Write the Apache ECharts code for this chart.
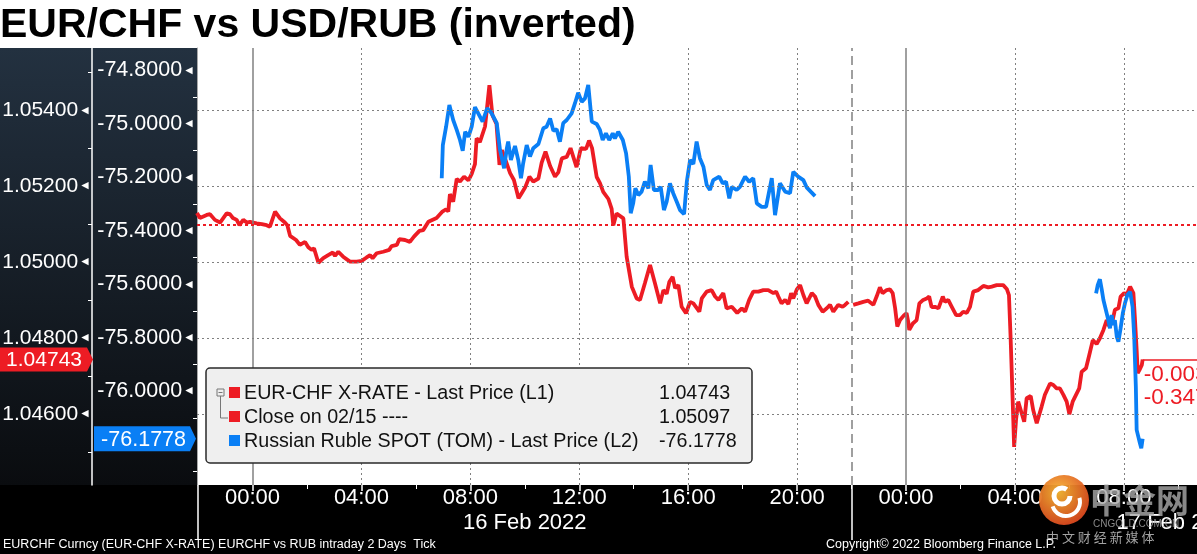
<!DOCTYPE html>
<html><head><meta charset="utf-8">
<script src="https://cdn.jsdelivr.net/npm/echarts@6/dist/echarts.min.js"></script>
<style>html,body{margin:0;padding:0;background:#fff}#c{width:1197px;height:554px}</style>
</head><body><div id="c"></div>
<script>
const titleText = 'EUR/CHF vs USD/RUB (inverted)';

// EUR-CHF (L1), hours relative to 16 Feb 2022 00:00
const redHoursA = [-2.04,-1.93,-1.68,-1.56,-1.38,-1.19,-0.95,-0.83,-0.72,-0.58,
 -0.48,-0.34,-0.21,-0.09,0.15,0.34,0.52,0.64,0.83,1.01,
 1.19,1.28,1.38,1.60,1.74,1.93,2.05,2.17,2.26,2.42,
 2.60,2.78,2.95,3.03,3.15,3.33,3.58,3.83,4.01,4.19,
 4.32,4.41,4.56,4.80,5.02,5.11,5.30,5.39,5.60,5.78,
 5.93,6.13,6.27,6.46,6.76,6.96,7.11,7.19,7.25,7.37,
 7.50,7.62,7.77,7.93,8.05,8.17,8.23,8.35,8.54,8.70,
 8.81,8.96,9.07,9.16,9.29,9.46,9.60,9.77,9.89,10.01,
 10.17,10.31,10.50,10.62,10.76,10.93,11.11,11.23,11.36,11.54,
 11.68,11.90,12.06,12.25,12.36,12.47,12.64,12.76,12.88,13.07,
 13.19,13.25,13.37,13.62,13.74,13.93,14.11,14.23,14.41,14.60,
 14.78,14.97,15.09,15.21,15.31,15.43,15.52,15.64,15.76,15.92,
 16.07,16.19,16.41,16.50,16.68,16.86,16.99,17.11,17.29,17.41,
 17.60,17.80,17.97,18.09,18.24,18.39,18.58,18.76,18.94,19.13,
 19.23,19.31,19.43,19.56,19.68,19.78,19.86,19.99,20.11,20.23,
 20.35,20.54,20.66,20.78,20.94,21.09,21.21,21.33,21.51,21.67,
 21.76,21.88];
const redValuesA = [1.05129,1.05116,1.05124,1.05126,1.05111,1.05104,1.05128,1.05126,1.05116,1.05111,
 1.05097,1.05111,1.05104,1.05106,1.05102,1.05100,1.05097,1.05093,1.05133,1.05115,
 1.05104,1.05097,1.05069,1.05058,1.05045,1.05053,1.05039,1.05032,1.05036,1.04998,
 1.05010,1.05018,1.05025,1.05016,1.05027,1.05014,1.05001,1.05001,1.05003,1.05012,
 1.05018,1.05010,1.05023,1.05027,1.05032,1.05042,1.05045,1.05060,1.05058,1.05053,
 1.05067,1.05082,1.05084,1.05106,1.05116,1.05132,1.05139,1.05133,1.05179,1.05159,
 1.05219,1.05212,1.05225,1.05215,1.05232,1.05258,1.05326,1.05316,1.05357,1.05466,
 1.05387,1.05364,1.05256,1.05295,1.05269,1.05234,1.05216,1.05168,1.05182,1.05196,
 1.05225,1.05212,1.05220,1.05262,1.05291,1.05253,1.05225,1.05236,1.05273,1.05277,
 1.05300,1.05250,1.05300,1.05298,1.05320,1.05300,1.05224,1.05208,1.05185,1.05166,
 1.05140,1.05097,1.05128,1.05115,1.05014,1.04935,1.04904,1.04900,1.04944,1.04992,
 1.04944,1.04891,1.04926,1.04916,1.04948,1.04961,1.04931,1.04939,1.04882,1.04865,
 1.04895,1.04891,1.04869,1.04904,1.04922,1.04926,1.04909,1.04900,1.04918,1.04878,
 1.04882,1.04866,1.04878,1.04869,1.04900,1.04922,1.04922,1.04926,1.04926,1.04918,
 1.04922,1.04909,1.04891,1.04900,1.04889,1.04918,1.04904,1.04928,1.04939,1.04913,
 1.04891,1.04918,1.04909,1.04887,1.04869,1.04878,1.04887,1.04869,1.04887,1.04882,
 1.04887,1.04895];
const redHoursB = [22.06,22.25,22.43,22.61,22.80,22.92,23.04,23.14,
 23.29,23.41,23.51,23.60,23.68,23.78,23.93,24.02,24.08,24.12,
 24.25,24.39,24.49,24.63,24.76,24.85,24.94,25.06,25.19,25.35,
 25.43,25.55,25.68,25.84,25.98,26.10,26.23,26.35,26.47,26.65,
 26.84,27.02,27.15,27.33,27.57,27.70,27.78,27.84,27.92,27.97,
 28.04,28.12,28.25,28.34,28.43,28.58,28.67,28.80,28.98,29.10,
 29.29,29.41,29.53,29.65,29.78,29.90,30.00,30.12,30.27,30.36,
 30.45,30.61,30.73,30.86,31.00,31.12,31.25,31.37,31.47,31.59,
 31.67,31.80,31.88,32.01,32.10,32.23,32.30,32.35,32.41,32.47,
 32.51,32.57,32.66,32.69];
const redValuesB = [1.04887,1.04891,1.04895,1.04898,1.04887,1.04909,1.04933,1.04918,
 1.04926,1.04928,1.04918,1.04878,1.04830,1.04847,1.04860,1.04865,1.04843,1.04821,
 1.04838,1.04847,1.04891,1.04900,1.04904,1.04909,1.04881,1.04882,1.04878,1.04909,
 1.04895,1.04900,1.04882,1.04860,1.04860,1.04869,1.04866,1.04882,1.04922,1.04926,
 1.04937,1.04933,1.04935,1.04939,1.04939,1.04929,1.04913,1.04803,1.04628,1.04513,
 1.04584,1.04632,1.04601,1.04579,1.04641,1.04647,1.04610,1.04575,1.04619,1.04650,
 1.04680,1.04676,1.04667,1.04667,1.04650,1.04632,1.04599,1.04632,1.04654,1.04667,
 1.04711,1.04720,1.04755,1.04794,1.04784,1.04799,1.04821,1.04847,1.04830,1.04847,
 1.04874,1.04878,1.04909,1.04918,1.04913,1.04935,1.04939,1.04918,1.04847,1.04768,
 1.04707,1.04715,1.04729,1.04743];

// USD/RUB inverted (L2)
const blueHoursA = [6.95,6.99,7.11,7.23,7.37,7.50,7.62,7.72,7.81,7.93,
 8.05,8.17,8.29,8.45,8.62,8.78,8.97,9.09,9.24,9.34,
 9.39,9.49,9.64,9.76,9.86,9.94,10.07,10.19,10.31,10.50,
 10.68,10.80,10.93,11.05,11.17,11.29,11.41,11.54,11.72,11.84,
 11.96,12.09,12.21,12.33,12.46,12.64,12.76,12.86,12.98,13.10,
 13.23,13.31,13.43,13.60,13.72,13.82,13.89,13.98,14.06,14.17,
 14.29,14.41,14.54,14.62,14.74,14.90,14.99,15.11,15.21,15.33,
 15.45,15.58,15.70,15.85,15.95,16.07,16.19,16.31,16.43,16.56,
 16.68,16.80,16.92,17.14,17.27,17.39,17.51,17.60,17.78,17.90,
 18.09,18.24,18.39,18.52,18.70,18.86,19.07,19.19,19.37,19.56,
 19.74,19.86,20.04,20.23,20.35,20.50,20.66];
const blueValuesA = [-75.203,-75.079,-75.010,-74.929,-74.985,-75.022,-75.060,-75.100,-75.029,-75.048,
 -75.010,-74.937,-74.960,-74.991,-74.941,-74.960,-74.997,-75.097,-75.166,-75.091,
 -75.066,-75.135,-75.082,-75.135,-75.203,-75.147,-75.079,-75.122,-75.091,-75.075,
 -75.016,-75.010,-74.979,-75.025,-75.020,-75.066,-74.997,-74.985,-74.960,-74.923,
 -74.883,-74.917,-74.904,-74.854,-74.991,-75.000,-75.022,-75.060,-75.035,-75.060,
 -75.035,-75.054,-75.029,-75.060,-75.110,-75.197,-75.334,-75.297,-75.241,-75.266,
 -75.253,-75.216,-75.241,-75.153,-75.247,-75.247,-75.235,-75.322,-75.291,-75.222,
 -75.259,-75.291,-75.322,-75.337,-75.216,-75.135,-75.150,-75.066,-75.128,-75.160,
 -75.228,-75.247,-75.210,-75.197,-75.222,-75.216,-75.278,-75.235,-75.247,-75.235,
 -75.197,-75.216,-75.203,-75.297,-75.310,-75.310,-75.203,-75.341,-75.222,-75.253,
 -75.259,-75.179,-75.197,-75.210,-75.237,-75.253,-75.270];
const blueHoursB = [30.98,31.04,31.12,31.19,31.25,31.34,31.43,31.49,31.55,31.61,31.67,31.74,31.80,
 31.88,31.96,32.04,32.13,32.23,32.32,32.38,32.44,32.47,32.53,32.59,32.64,32.69];
const blueValuesB = [-75.634,-75.603,-75.581,-75.621,-75.659,-75.696,-75.734,-75.765,-75.715,-75.752,-75.734,-75.796,-75.815,
 -75.765,-75.709,-75.671,-75.640,-75.628,-75.684,-75.796,-75.983,-76.145,-76.170,-76.195,-76.214,-76.1778];

const closeValue = 1.05097;
const lastRed = 1.04743;
const lastBlue = -76.1778;
const changeLabels = ['-0.00354', '-0.347%'];

const l1Ticks = [1.054, 1.052, 1.050, 1.048, 1.046];
const l1TickLabels = ['1.05400', '1.05200', '1.05000', '1.04800', '1.04600'];
const l1MinorTicks = [1.055, 1.053, 1.051, 1.049, 1.047, 1.045];
const l2Ticks = [-74.8, -75.0, -75.2, -75.4, -75.6, -75.8, -76.0];
const l2TickLabels = ['-74.8000', '-75.0000', '-75.2000', '-75.4000', '-75.6000', '-75.8000', '-76.0000'];
const l2MinorTicks = [-74.9, -75.1, -75.3, -75.5, -75.7, -75.9, -76.1, -76.3];

const xTickHours = [0, 4, 8, 12, 16, 20, 24, 28, 32];
const xTickLabels = ['00:00', '04:00', '08:00', '12:00', '16:00', '20:00', '00:00', '04:00', '08:00'];
const xMinorHours = [2, 6, 10, 14, 18, 22, 26, 30, 34];
const dottedHours = [4, 8, 12, 16, 20, 28, 32];
const midnightHours = [0, 24];
const sessionHours = [-2, 22];
const dayLabelHours = [10, 34];
const dayLabels = ['16 Feb 2022', '17 Feb 2022'];

const legendNames = ['EUR-CHF X-RATE - Last Price (L1)', 'Close on 02/15 ----', 'Russian Ruble SPOT (TOM) - Last Price (L2)'];
const legendValues = ['1.04743', '1.05097', '-76.1778'];
const footerLeft = 'EURCHF Curncy (EUR-CHF X-RATE) EURCHF vs RUB intraday 2 Days  Tick';
const footerRight = 'Copyright\u00A9 2022 Bloomberg Finance L.P.';

const RED = '#ed1c24', BLUE = '#0a7ff5', GRID = '#808080';
const FONT = '"Liberation Sans", Arial, sans-serif';
const X_MIN = -2.038, X_MAX = 34.686;
const L1_MIN = 1.044124, L1_MAX = 1.055639;
const L2_MIN = -76.3512, L2_MAX = -74.7155;

function pairs(h, v) { return h.map((t, i) => [t, v[i]]); }
function lookup(keys, labels, v) {
  let b = 0;
  for (let i = 1; i < keys.length; i++) if (Math.abs(keys[i] - v) < Math.abs(keys[b] - v)) b = i;
  return labels[b];
}
const redData = pairs(redHoursA, redValuesA).concat([[21.97, '-']], pairs(redHoursB, redValuesB));
const blueData = pairs(blueHoursA, blueValuesA).concat([[25, '-']], pairs(blueHoursB, blueValuesB));

const xBase = {type: 'value', gridIndex: 0, position: 'bottom', min: X_MIN, max: X_MAX,
  axisLine: {show: false, onZero: false}, splitLine: {show: false},
  axisLabel: {show: false}, axisTick: {show: false}};
const yBase = {type: 'value', gridIndex: 0, position: 'left',
  axisLine: {show: false, onZero: false}, splitLine: {show: false},
  axisLabel: {show: false}, axisTick: {show: false}};

const gridLines = [];
l1Ticks.forEach(v => gridLines.push({yAxis: v, lineStyle: {color: GRID, type: [2, 3], width: 1}}));
dottedHours.forEach(h => gridLines.push({xAxis: h, lineStyle: {color: GRID, type: [2, 3], width: 1}}));
midnightHours.forEach(h => gridLines.push({xAxis: h, lineStyle: {color: GRID, type: 'solid', width: 1.5}}));
gridLines.push({xAxis: sessionHours[1], lineStyle: {color: GRID, type: [9, 5], width: 1.5}});
gridLines.push({yAxis: closeValue, lineStyle: {color: RED, type: [3, 3], width: 2}});

const option = {
  animation: false,
  backgroundColor: '#ffffff',
  textStyle: {fontFamily: FONT},
  grid: {left: 197, right: 0, top: 48, bottom: 69, containLabel: false, outerBoundsMode: 'none'},
  xAxis: [
    Object.assign({}, xBase, {
      axisTick: {show: true, customValues: xTickHours, length: 6, lineStyle: {color: '#fff', width: 1.5}},
      axisLabel: {show: true, customValues: xTickHours, formatter: v => lookup(xTickHours, xTickLabels, v),
        color: '#fff', fontSize: 22, fontFamily: FONT, margin: 2}
    }),
    Object.assign({}, xBase, {
      axisTick: {show: true, customValues: xMinorHours, length: 4, lineStyle: {color: '#fff', width: 1}}
    }),
    Object.assign({}, xBase, {
      axisTick: {show: true, customValues: sessionHours, length: 55, lineStyle: {color: '#fff', width: 1.5}}
    }),
    Object.assign({}, xBase, {
      axisLabel: {show: true, customValues: dayLabelHours, formatter: v => lookup(dayLabelHours, dayLabels, v),
        color: '#fff', fontSize: 22, fontFamily: FONT, margin: 27}
    })
  ],
  yAxis: [
    Object.assign({}, yBase, {
      min: L1_MIN, max: L1_MAX, offset: 105,
      axisLine: {show: true, onZero: false, lineStyle: {color: '#ffffff', width: 1.5}},
      axisLabel: {show: true, customValues: l1Ticks, margin: 1,
        formatter: v => '{v|' + lookup(l1Ticks, l1TickLabels, v) + '}{a|\u25C4}',
        rich: {v: {color: '#fff', fontSize: 21, fontFamily: FONT}, a: {color: '#fff', fontSize: 12, padding: [0, 0, 0, 1]}}}
    }),
    Object.assign({}, yBase, {
      min: L1_MIN, max: L1_MAX, offset: 105,
      axisTick: {show: true, customValues: l1MinorTicks, length: 4, lineStyle: {color: '#fff', width: 1}}
    }),
    Object.assign({}, yBase, {
      min: L2_MIN, max: L2_MAX, offset: 0,
      axisLine: {show: true, onZero: false, lineStyle: {color: '#a8a8a8', width: 1}},
      axisLabel: {show: true, customValues: l2Ticks, margin: 2,
        formatter: v => '{v|' + lookup(l2Ticks, l2TickLabels, v) + '}{a|\u25C4}',
        rich: {v: {color: '#fff', fontSize: 21.5, fontFamily: FONT}, a: {color: '#fff', fontSize: 12, padding: [0, 0, 0, 1]}}}
    }),
    Object.assign({}, yBase, {
      min: L2_MIN, max: L2_MAX, offset: 0,
      axisTick: {show: true, customValues: l2MinorTicks, length: 4, lineStyle: {color: '#fff', width: 1}}
    })
  ],
  series: [
    {type: 'line', name: 'grid', xAxisIndex: 0, yAxisIndex: 0, data: redData, silent: true, z: 1,
      showSymbol: false, symbol: 'none', lineStyle: {opacity: 0, width: 0}, tooltip: {show: false},
      markLine: {silent: true, precision: 6, symbol: ['none', 'none'], animation: false, label: {show: false},
        emphasis: {disabled: true}, data: gridLines}},
    {type: 'line', name: legendNames[0], xAxisIndex: 0, yAxisIndex: 0, data: redData, showSymbol: false,
      symbol: 'none', connectNulls: false, z: 3, lineStyle: {color: RED, width: 3.8}, itemStyle: {color: RED},
      markLine: {silent: true, precision: 6, symbol: ['none', 'none'], animation: false, label: {show: false},
        lineStyle: {color: RED, type: 'solid', width: 1.5},
        data: [[{coord: [redHoursB[redHoursB.length - 1], lastRed]}, {coord: [X_MAX, lastRed]}]]}},
    {type: 'line', name: legendNames[2], xAxisIndex: 0, yAxisIndex: 2, data: blueData, showSymbol: false,
      symbol: 'none', connectNulls: false, z: 4, lineStyle: {color: BLUE, width: 3.8}, itemStyle: {color: BLUE}}
  ]
};

const chart = echarts.init(document.getElementById('c'), null, {renderer: 'canvas', width: 1197, height: 554});
chart.setOption(option);

const yRed = chart.convertToPixel({yAxisIndex: 0}, lastRed);
const yBlue = chart.convertToPixel({yAxisIndex: 2}, lastBlue);
const xLast = chart.convertToPixel({xAxisIndex: 0}, redHoursB[redHoursB.length - 1]);

const rowY = [393, 417, 441];
const legendColors = [RED, RED, BLUE];
const els = [];
els.push({type: 'rect', silent: true, z: -10, shape: {x: 0, y: 48, width: 197, height: 437},
  style: {fill: {type: 'linear', x: 0, y: 0, x2: 0, y2: 1, colorStops: [{offset: 0, color: '#233140'}, {offset: 1, color: '#0a0c0f'}]}}});
els.push({type: 'rect', silent: true, z: -10, shape: {x: 0, y: 485, width: 1197, height: 69}, style: {fill: '#000'}});
els.push({type: 'text', silent: true, z: 50, x: 0, y: 26,
  style: {text: titleText, font: 'bold 41px ' + FONT, fill: '#000', align: 'left', verticalAlign: 'middle'}});
els.push({type: 'text', silent: true, z: 50, x: 3, y: 545,
  style: {text: footerLeft, font: '12.5px ' + FONT, fill: '#fff', align: 'left', verticalAlign: 'middle'}});
els.push({type: 'text', silent: true, z: 50, x: 826, y: 545,
  style: {text: footerRight, font: '12.5px ' + FONT, fill: '#fff', align: 'left', verticalAlign: 'middle'}});
// legend box
els.push({type: 'rect', silent: true, z: 50, shape: {x: 206, y: 368, width: 546, height: 95, r: 4},
  style: {fill: '#efefef', stroke: '#2a2a2a', lineWidth: 1.5}});
els.push({type: 'rect', silent: true, z: 51, shape: {x: 217, y: 389, width: 7, height: 7}, style: {fill: 'none', stroke: '#777', lineWidth: 1}});
els.push({type: 'line', silent: true, z: 51, shape: {x1: 218.5, y1: 392.5, x2: 222.5, y2: 392.5}, style: {stroke: '#777', lineWidth: 1}});
els.push({type: 'polyline', silent: true, z: 51, shape: {points: [[220.5, 396], [220.5, 418], [228, 418]]}, style: {fill: 'none', stroke: '#777', lineWidth: 1}});
legendNames.forEach((n, i) => {
  els.push({type: 'rect', silent: true, z: 51, shape: {x: 229, y: rowY[i] - 6, width: 11, height: 11}, style: {fill: legendColors[i]}});
  els.push({type: 'text', silent: true, z: 51, x: 244, y: rowY[i] + 1,
    style: {text: n, font: '19.7px ' + FONT, fill: '#111', align: 'left', verticalAlign: 'middle'}});
  els.push({type: 'text', silent: true, z: 51, x: 659, y: rowY[i] + 1,
    style: {text: legendValues[i], font: '19.7px ' + FONT, fill: '#111', align: 'left', verticalAlign: 'middle'}});
});
// value tags on the axes
els.push({type: 'polygon', silent: true, z: 60, shape: {points: [[0, yRed - 12], [87, yRed - 12], [93, yRed], [87, yRed + 12], [0, yRed + 12]]}, style: {fill: RED}});
els.push({type: 'text', silent: true, z: 61, x: 82, y: yRed + 1,
  style: {text: legendValues[0], font: '21px ' + FONT, fill: '#fff', align: 'right', verticalAlign: 'middle'}});
els.push({type: 'polygon', silent: true, z: 60, shape: {points: [[94, yBlue - 12.5], [190, yBlue - 12.5], [196, yBlue], [190, yBlue + 12.5], [94, yBlue + 12.5]]}, style: {fill: BLUE}});
els.push({type: 'text', silent: true, z: 61, x: 186, y: yBlue + 1,
  style: {text: legendValues[2], font: '21.5px ' + FONT, fill: '#fff', align: 'right', verticalAlign: 'middle'}});
// change labels at the right edge
els.push({type: 'text', silent: true, z: 61, x: xLast + 1, y: yRed + 15,
  style: {text: changeLabels[0], font: '22.5px ' + FONT, fill: RED, align: 'left', verticalAlign: 'middle'}});
els.push({type: 'text', silent: true, z: 61, x: xLast + 1, y: yRed + 38,
  style: {text: changeLabels[1], font: '22.5px ' + FONT, fill: RED, align: 'left', verticalAlign: 'middle'}});
// watermark
els.push({type: 'group', silent: true, z: 70, children: [
  {type: 'circle', z: 70, shape: {cx: 1064, cy: 500, r: 25},
    style: {fill: {type: 'radial', x: 0.4, y: 0.35, r: 0.7, colorStops: [{offset: 0, color: '#f7b733'}, {offset: 1, color: '#d9431e'}]}, opacity: 0.95}},
  {type: 'arc', z: 71, shape: {cx: 1062, cy: 496, r: 8, startAngle: 0, endAngle: Math.PI * 1.7}, style: {fill: 'none', stroke: '#fff', lineWidth: 5}},
  {type: 'arc', z: 71, shape: {cx: 1066, cy: 502, r: 14, startAngle: -0.3, endAngle: Math.PI * 0.9}, style: {fill: 'none', stroke: '#fff', lineWidth: 4}},
  {type: 'text', z: 71, x: 1090, y: 500, style: {text: '中金网', font: 'bold 33px "Noto Sans CJK SC"', fill: 'rgba(170,170,170,0.8)', align: 'left', verticalAlign: 'middle'}},
  {type: 'text', z: 71, x: 1093, y: 524, style: {text: 'CNGOLD.COM.CN', font: '10px ' + FONT, fill: 'rgba(170,170,170,0.8)', align: 'left', verticalAlign: 'middle'}},
  {type: 'text', z: 71, x: 1046, y: 537, style: {text: '中 文 财 经 新 媒 体', font: '13px "Noto Sans CJK SC"', fill: 'rgba(190,190,190,0.85)', align: 'left', verticalAlign: 'middle'}}
]});

chart.setOption({graphic: {elements: els}});
</script></body></html>
